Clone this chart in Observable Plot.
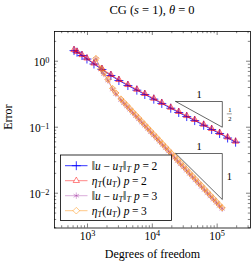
<!DOCTYPE html>
<html><head><meta charset="utf-8">
<script src="https://cdn.jsdelivr.net/npm/d3@7"></script>
<script src="https://cdn.jsdelivr.net/npm/@observablehq/plot@0.6"></script>
<style>
body{margin:0;background:#fff;}
#wrap{position:relative;width:251px;height:268px;font-family:"Liberation Serif",serif;overflow:hidden;}
#title{position:absolute;top:0;left:54px;width:196px;height:20px;line-height:20px;text-align:center;font-size:12.5px;color:#000;font-family:"Liberation Serif",serif;}
#chart{position:absolute;top:20px;left:0;}
</style>
</head><body>
<div id="wrap"><div id="title">CG (<i>s</i> = 1), <i>θ</i> = 0</div><div id="chart"></div></div>
<script>
// ---- data ----
const dofP2 = [620, 690, 823, 982, 1259, 1672, 2299, 3052, 4200, 5775, 7665, 10547, 14005, 19256, 25568, 33950, 45070, 61980, 82310, 109270, 145050, 192600];
const errP2 = [1.45, 1.37, 1.22, 1.08, 0.907, 0.749, 0.607, 0.510, 0.428, 0.364, 0.313, 0.266, 0.229, 0.194, 0.167, 0.145, 0.126, 0.107, 0.0923, 0.0803, 0.0686, 0.0593];
const estP2 = [1.49, 1.40, 1.25, 1.11, 0.93, 0.77, 0.624, 0.524, 0.440, 0.374, 0.322, 0.273, 0.235, 0.199, 0.172, 0.149, 0.130, 0.110, 0.0948, 0.0825, 0.0705, 0.0610];
const dofP3 = [1351, 1613, 1794, 2067, 2442, 2745, 3277, 3640, 4050, 4500, 5000, 5560, 6190, 6880, 7650, 8500, 9450, 10500, 11680, 12990, 14440, 16060, 17860, 19860, 22080, 24560, 27300, 30360, 33760, 37540, 41740, 46420, 51620, 57400, 63830, 70980, 78930, 87770, 97600, 108500, 119700];
const errP3 = [1.08, 0.749, 0.640, 0.510, 0.373, 0.3185, 0.2583, 0.2310, 0.2065, 0.1846, 0.1650, 0.1475, 0.1319, 0.1179, 0.1054, 0.0942, 0.0842, 0.0753, 0.0673, 0.0602, 0.0538, 0.0481, 0.0430, 0.0384, 0.0344, 0.0307, 0.0275, 0.0246, 0.0220, 0.0196, 0.0176, 0.0157, 0.0140, 0.0125, 0.0112, 0.0100, 0.00896, 0.00801, 0.00716, 0.00640, 0.00580];
const estP3 = [1.10, 0.77, 0.660, 0.528, 0.386, 0.330, 0.268, 0.239, 0.214, 0.191, 0.171, 0.153, 0.137, 0.122, 0.109, 0.0975, 0.0872, 0.0780, 0.0697, 0.0623, 0.0557, 0.0498, 0.0445, 0.0398, 0.0356, 0.0318, 0.0285, 0.0255, 0.0228, 0.0203, 0.0182, 0.0163, 0.0145, 0.0130, 0.0116, 0.0104, 0.00928, 0.00830, 0.00742, 0.00663, 0.00600];
const xMajor = [1e3, 1e4, 1e5];
const yMajor = [1e-2, 1e-1, 1];
const xDomain = [310, 327000];
const yDomain = [0.00297, 2.82];
const triX = [22990, 120200];
const triUpperY = [0.2451, 0.1];
const triLowerY = [0.03995, 0.00802];

// ---- layout ----
const W = 251, H = 248, mL = 54, mR = 1, mT = 11, mB = 40.5;
const FW = W - mL - mR, FH = H - mT - mB;
const FONT = "Liberation Serif, serif";

function minorTicks(lo, hi) {
  const out = [];
  for (let e = Math.floor(Math.log10(lo)); e <= Math.ceil(Math.log10(hi)); e++)
    for (let k = 2; k <= 9; k++) { const v = k * Math.pow(10, e); if (v > lo && v < hi) out.push(v); }
  return out;
}
const xMinor = minorTicks(...xDomain), yMinor = minorTicks(...yDomain);
const rows = (xs, ys) => xs.map((x, i) => ({x, y: ys[i]}));
const tri = (ys) => [{x: triX[0], y: ys[0]}, {x: triX[1], y: ys[0]}, {x: triX[1], y: ys[1]}, {x: triX[0], y: ys[0]}];
const expLabel = d => "10^" + String(Math.round(Math.log10(d))).replace("-", "\u2212");

const cBlue = "#0000ff", cRed = "#ff0000", cPurple = "#a030a0", cOrange = "#ff8c00";

const tk = {stroke: "black", strokeWidth: 0.5};
const plot = Plot.plot({
  width: W, height: H, marginLeft: mL, marginRight: mR, marginTop: mT, marginBottom: mB,
  style: {fontFamily: FONT, fontSize: "11px", background: "white", color: "black"},
  x: {type: "log", domain: xDomain, axis: null},
  y: {type: "log", domain: yDomain, axis: null},
  marks: [
    Plot.tickX(xMinor, {x: d => d, insetTop: FH - 2.2, ...tk}),
    Plot.tickX(xMinor, {x: d => d, insetBottom: FH - 2.2, ...tk}),
    Plot.tickX(xMajor, {x: d => d, insetTop: FH - 4, ...tk}),
    Plot.tickX(xMajor, {x: d => d, insetBottom: FH - 4, ...tk}),
    Plot.tickY(yMinor, {y: d => d, insetRight: FW - 2.2, ...tk}),
    Plot.tickY(yMinor, {y: d => d, insetLeft: FW - 2.2, ...tk}),
    Plot.tickY(yMajor, {y: d => d, insetRight: FW - 4, ...tk}),
    Plot.tickY(yMajor, {y: d => d, insetLeft: FW - 4, ...tk}),
    Plot.text(xMajor, {x: d => d, frameAnchor: "bottom", dy: 12, text: expLabel, fontSize: 11.5, fontFamily: FONT}),
    Plot.text(yMajor, {y: d => d, frameAnchor: "left", dx: -5, dy: 1.5, textAnchor: "end", text: expLabel, fontSize: 11.5, fontFamily: FONT}),
    Plot.text(["Error"], {frameAnchor: "left", dx: -46, rotate: -90, text: d => d, fontSize: 12, fontFamily: FONT}),
    Plot.text(["Degrees of freedom"], {frameAnchor: "bottom", dy: 29.5, text: d => d, fontSize: 12, fontFamily: FONT}),
    Plot.line(tri(triUpperY), {x: "x", y: "y", stroke: "black", strokeWidth: 0.6}),
    Plot.line(tri(triLowerY), {x: "x", y: "y", stroke: "black", strokeWidth: 0.6}),
    Plot.text([0], {x: () => Math.sqrt(triX[0] * triX[1]), y: () => triUpperY[0], dy: -7, text: () => "1", fontSize: 10.5, fontFamily: FONT}),
    Plot.text([0], {x: () => Math.sqrt(triX[0] * triX[1]), y: () => triLowerY[0], dy: -7, text: () => "1", fontSize: 10.5, fontFamily: FONT}),
    Plot.text([0], {x: () => triX[1], y: () => Math.sqrt(triLowerY[0] * triLowerY[1]), dx: 7, text: () => "1", fontSize: 10.5, fontFamily: FONT}),
    Plot.text([0], {x: () => triX[1], y: () => Math.sqrt(triUpperY[0] * triUpperY[1]), dx: 7.5, dy: -4.2, text: () => "1", fontSize: 6.5, fontFamily: FONT}),
    Plot.text([0], {x: () => triX[1], y: () => Math.sqrt(triUpperY[0] * triUpperY[1]), dx: 7.5, dy: 4.2, text: () => "2", fontSize: 6.5, fontFamily: FONT}),
    Plot.line(rows(dofP2, errP2), {x: "x", y: "y", stroke: cBlue, strokeWidth: 0.8}),
    Plot.dot(rows(dofP2, errP2), {x: "x", y: "y", symbol: "plus", stroke: cBlue, r: 3, strokeWidth: 0.8}),
    Plot.line(rows(dofP2, estP2), {x: "x", y: "y", stroke: cRed, strokeWidth: 0.8, strokeOpacity: 0.6}),
    Plot.dot(rows(dofP2, estP2), {x: "x", y: "y", symbol: "triangle2", stroke: cRed, fill: cRed, fillOpacity: 0.25, strokeOpacity: 0.65, r: 3, strokeWidth: 0.8}),
    Plot.line(rows(dofP3, errP3), {x: "x", y: "y", stroke: cPurple, strokeWidth: 0.8, strokeOpacity: 0.55}),
    Plot.dot(rows(dofP3, errP3), {x: "x", y: "y", symbol: "asterisk", stroke: cPurple, strokeOpacity: 0.55, r: 3, strokeWidth: 0.8}),
    Plot.line(rows(dofP3, estP3), {x: "x", y: "y", stroke: cOrange, strokeWidth: 0.8, strokeOpacity: 0.6}),
    Plot.dot(rows(dofP3, estP3), {x: "x", y: "y", symbol: "diamond2", stroke: cOrange, fill: cOrange, fillOpacity: 0.2, strokeOpacity: 0.7, r: 2.8, strokeWidth: 0.8}),
    Plot.frame({stroke: "black", strokeWidth: 0.8})
  ]
});
document.getElementById("chart").appendChild(plot);

d3.select(plot).selectAll("text").each(function () {
  const m = /^10\^(.+)$/.exec(this.textContent);
  if (!m) return;
  const t = d3.select(this);
  t.text("");
  t.append("tspan").text("10");
  t.append("tspan").attr("dy", "-0.45em").attr("font-size", "0.72em").text(m[1]);
});

// legend
const svg = d3.select(plot);
const lg = svg.append("g").attr("font-family", FONT).attr("font-size", 11.5).attr("text-anchor", "start");
lg.append("rect").attr("x", 60.5).attr("y", 135).attr("width", 111).attr("height", 65.5)
  .attr("fill", "white").attr("stroke", "black").attr("stroke-width", 0.8);
const TS = "\u2009";
const normParts = (p) => [["‖"], ["u", 1], [TS + "−" + TS], ["u", 1], ["T", 1, 1], ["‖"], ["T", 1, 1], [" "], ["p", 1], [TS + "=" + TS + p]];
const estParts = (p) => [["η", 1], ["T", 1, 1], ["("], ["u", 1], ["T", 1, 1], [")"], [" "], ["p", 1], [TS + "=" + TS + p]];
const items = [
  {c: cBlue, op: 1, sym: d3.symbolPlus, parts: normParts(2)},
  {c: cRed, op: 0.6, sym: d3.symbolTriangle2, parts: estParts(2)},
  {c: cPurple, op: 0.5, sym: d3.symbolAsterisk, parts: normParts(3)},
  {c: cOrange, op: 0.6, sym: d3.symbolDiamond2, parts: estParts(3)}
];
items.forEach((it, i) => {
  const y = 145.7 + i * 15;
  lg.append("line").attr("x1", 65).attr("x2", 87.5).attr("y1", y).attr("y2", y)
    .attr("stroke", it.c).attr("stroke-opacity", it.op).attr("stroke-width", 0.8);
  lg.append("path").attr("d", d3.symbol(it.sym, 28)()).attr("transform", `translate(76.3,${y})`)
    .attr("stroke", it.c).attr("stroke-opacity", it.op).attr("fill", "white").attr("stroke-width", 0.8);
  const t = lg.append("text").attr("x", 91.7).attr("y", y + 3.8).attr("text-anchor", "start").attr("letter-spacing", 0.15);
  let sub = false;
  it.parts.forEach(([s, ital, isSub]) => {
    const ts = t.append("tspan").text(s);
    if (ital) ts.attr("font-style", "italic");
    if (isSub) {
      ts.attr("font-size", 8);
      if (!sub) { ts.attr("dy", 2.4); sub = true; }
    } else if (sub) { ts.attr("dy", -2.4); sub = false; }
  });
});

const sx = plot.scale("x"), sy = plot.scale("y");
const fx = sx.apply(triX[1]) + 7.5, fy = sy.apply(Math.sqrt(triUpperY[0] * triUpperY[1]));
svg.append("line").attr("x1", fx - 2.5).attr("x2", fx + 2.5).attr("y1", fy).attr("y2", fy)
  .attr("stroke", "black").attr("stroke-width", 0.4);
</script>
</body></html>
